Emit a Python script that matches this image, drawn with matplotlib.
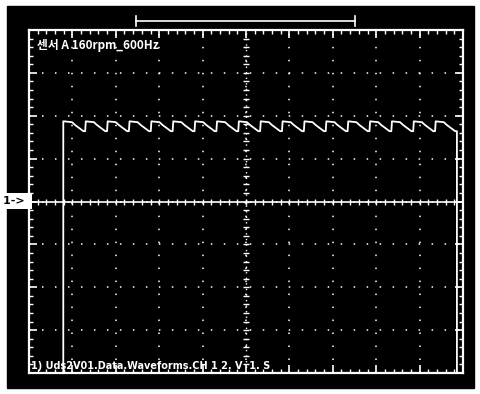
import numpy as np
import matplotlib
matplotlib.use("Agg")
from matplotlib import pyplot as plt
from matplotlib.patches import Rectangle
from matplotlib.lines import Line2D

plt.rcParams['font.family'] = ['Noto Sans CJK KR', 'DejaVu Sans']

# scope screen, in divisions
title = "센서 A 160rpm_600Hz"
footer = "1) Uds2V01.Data.Waveforms.CH 1 2. V  1. S"
n_xdiv = 10
n_ydiv = 8

# signal: on at t_on, off at t_off (div), ripple while on
t_on = 0.79
t_off = 9.86
n_periods = 18
# one ripple period: phase (0..1) and level (div)
ripple_phase = [0.0, 0.03, 0.40, 0.55, 0.92, 1.0]
ripple_level = [1.64, 1.87, 1.85, 1.78, 1.64, 1.64]
off_level = -5.0

W, H = 481, 394
fig = plt.figure(figsize=(W / 100, H / 100), dpi=100, facecolor="white")

# black screen background
fig.patches.append(Rectangle((7 / W, 1 - 388 / H), 467 / W, 382 / H,
                             transform=fig.transFigure, color="black", zorder=-10))

ax = fig.add_axes([29 / W, 1 - 373 / H, 434 / W, 343 / H])
ax.set_zorder(2)
ax.set_facecolor("black")
ax.set_xlim(0, n_xdiv)
ax.set_ylim(-n_ydiv / 2, n_ydiv / 2)
for s in ax.spines.values():
    s.set_color("white")
    s.set_linewidth(1.6)

# frame ticks every 0.2 div
ax.set_xticks(np.arange(0, n_xdiv + 0.01, 1))
ax.set_yticks(np.arange(-4, 4.01, 1))
ax.set_xticks(np.arange(0, n_xdiv + 0.01, 0.2), minor=True)
ax.set_yticks(np.arange(-4, 4.01, 0.2), minor=True)
ax.tick_params(which="both", direction="in", colors="white", top=True, right=True,
               labelbottom=False, labelleft=False)
ax.tick_params(which="major", length=6, width=1.2)
ax.tick_params(which="minor", length=3, width=1)

# dotted graticule
for gx in range(1, n_xdiv):
    ax.plot([gx, gx], [-4, 4], color="white", lw=1.1, ls=(0, (1, 7.5)), zorder=1)
for gy in range(-3, 4):
    ax.plot([0, n_xdiv], [gy, gy], color="white", lw=1.1, ls=(0, (1, 7.5)), zorder=1)

# centre lines with small cross ticks
cx, cy = n_xdiv / 2, 0
ax.plot([0, n_xdiv], [cy, cy], color="white", lw=1.2, zorder=1)
ax.plot([cx, cx], [-4, 4], color="white", lw=1.0, ls=(0, (1, 3)), zorder=1)
tks = np.arange(0.2, n_xdiv, 0.2)
ax.plot(tks, np.zeros_like(tks), "|", color="white", ms=5, mew=1, zorder=1)
tky = np.arange(-3.8, 4, 0.2)
ax.plot(np.full_like(tky, cx), tky, "_", color="white", ms=5, mew=1, zorder=1)

# waveform
period = (t_off - t_on) / n_periods
tt = [0, t_on]
vv = [off_level, off_level]
for k in range(n_periods):
    for p, lv in zip(ripple_phase, ripple_level):
        tt.append(t_on + (k + p) * period)
        vv.append(lv)
tt += [t_off, t_off, n_xdiv]
vv += [ripple_level[-1], off_level, off_level]
vv[2] = ripple_level[1]
ax.plot(tt, vv, color="white", lw=1.3, zorder=3, clip_on=True)

# texts
fig.text(37 / W, 1 - 45 / H, title, color="white", fontsize=8.5, fontweight="bold",
         va="center", ha="left", zorder=5)
fig.text(31 / W, 1 - 366 / H, footer, color="white", fontsize=7, fontweight="bold",
         va="center", ha="left", fontfamily="DejaVu Sans", zorder=5)

# channel marker
fig.text(3 / W, 1 - 201 / H, "1-> ", color="black", fontsize=8, fontweight="bold",
         va="center", ha="left", fontfamily="DejaVu Sans", zorder=5,
         bbox=dict(facecolor="white", edgecolor="none", pad=2.5))

# record position bar
y_bar = 1 - 21 / H
fig.lines.append(Line2D([136 / W, 355 / W], [y_bar, y_bar], transform=fig.transFigure,
                        color="white", lw=1.2))
for xb in (136, 355):
    fig.lines.append(Line2D([xb / W, xb / W], [y_bar - 5 / H, y_bar + 5 / H],
                            transform=fig.transFigure, color="white", lw=1.2))

fig.savefig("out.png", dpi=100, facecolor="white")
